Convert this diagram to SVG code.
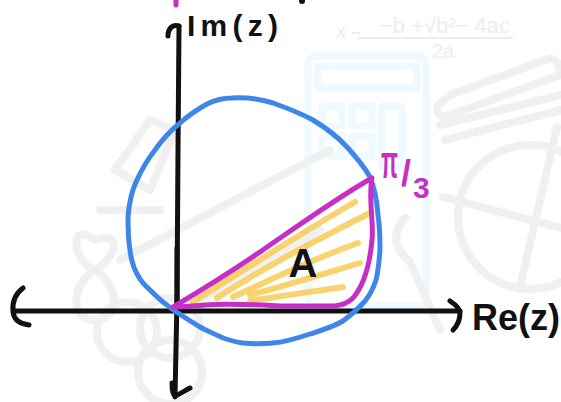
<svg xmlns="http://www.w3.org/2000/svg" width="561" height="402" viewBox="0 0 561 402">
<style>
.bg{fill:none;stroke:#f0f0f0;stroke-width:8;stroke-linecap:round;stroke-linejoin:round}
.bgc{fill:none;stroke:#eefafe;stroke-width:7;stroke-linejoin:round}
.wm{fill:#ededed;font-family:"Liberation Sans",Arial,sans-serif}
.ink{fill:none;stroke:#111111;stroke-width:5;stroke-linecap:round;stroke-linejoin:round}
.blue{fill:none;stroke:#3f86ea;stroke-width:5;stroke-linecap:round;stroke-linejoin:round}
.pink{fill:none;stroke:#c52fc5;stroke-width:5;stroke-linecap:round;stroke-linejoin:round}
.hatch{fill:none;stroke:#f6c84a;stroke-opacity:0.8;stroke-width:6;stroke-linecap:round}
.lbl{fill:#111111;font-family:"Liberation Sans",Arial,sans-serif;font-weight:bold}
.plbl{fill:#c52fc5;font-family:"Liberation Sans",Arial,sans-serif;font-weight:bold}
</style>
<rect width="561" height="402" fill="#ffffff"/>
<g id="background">
  <text class="wm" x="336" y="38" font-size="20">x</text>
  <line x1="358" y1="38" x2="513" y2="38" stroke="#ededed" stroke-width="2"/>
  <line x1="352" y1="33" x2="360" y2="33" stroke="#ededed" stroke-width="2"/>
  <text class="wm" x="380" y="33" font-size="22">−b +√b²− 4ac</text>
  <text class="wm" x="432" y="58" font-size="20">2a</text>
  <rect class="bgc" x="308" y="56" width="118" height="250" rx="8"/>
  <rect class="bgc" x="318" y="66" width="99" height="22"/>
  <rect class="bgc" x="322" y="106" width="20" height="20"/>
  <rect class="bgc" x="352" y="106" width="20" height="20"/>
  <rect class="bgc" x="382" y="106" width="20" height="60"/>
  <rect class="bgc" x="322" y="136" width="20" height="20"/>
  <rect class="bgc" x="352" y="136" width="20" height="20"/>
  <path class="bg" d="M450,95 L545,60 Q560,55 560,75 L450,115 Q435,120 438,105 Z"/>
  <path class="bg" d="M440,125 L561,95 M445,140 L561,110"/>
  <circle class="bg" cx="530" cy="217" r="72"/>
  <path class="bg" d="M443,197 L561,228 M557,127 L520,287"/>
  <path class="bg" d="M405,218 Q385,240 410,262 L440,330"/>
  <path class="bg" d="M115,170 L150,120 L175,130 L150,190 Z"/>
  <path class="bg" d="M100,210 L160,210"/>
  <path class="bg" d="M95,240 C70,220 70,260 95,270 C120,285 120,320 95,320 C70,320 70,285 95,270 C120,255 120,230 95,240 Z"/>
  <circle class="bg" cx="127" cy="332" r="30"/>
  <circle class="bg" cx="170" cy="328" r="30"/>
  <circle class="bg" cx="170" cy="372" r="32"/>
  <path class="bg" d="M120,260 L330,150 M200,300 L320,230"/>
</g>
<g id="axes">
  <path class="ink" d="M179,26 L178,150 L177,300 L175,397"/>
  <path class="ink" stroke-width="7" d="M177,248 L177,310"/>
  <path class="ink" d="M168,36 C168,28 173,24 179,26"/>
  <path class="ink" d="M172,383 C172,390 173,395 175,396 C180,394 186,390 190,388"/>
  <path class="ink" d="M14,311 L460,311"/>
  <path class="ink" d="M23,288 C15,294 12,302 13,312 C14,320 20,324 29,325"/>
  <path class="ink" d="M450,301 C456,305 460,309 460,313 C460,320 457,326 453,330"/>
</g>
<g id="circle">
  <path class="blue" d="M232,98 C246,97 260,99 273,103 C287,108 300,113 313,120 C326,128 338,137 347,147 C356,157 364,166 370,177 C375,189 377,202 378,215 C380,228 380,240 380,250 C379,263 378,272 376,280 C373,289 370,295 365,301 C358,309 351,315 343,321 C333,327 322,330 310,334 C298,338 286,342 273,343 C263,344 253,344 243,343 C235,342 229,340 223,338 C215,334 207,331 200,327 C190,321 181,315 172,309 C165,304 158,298 153,293 C147,287 143,284 140,279 C134,270 131,260 130,250 C128,239 128,228 128,217 C129,204 131,193 136,182 C141,171 147,160 155,150 C162,140 170,131 180,123 C189,115 198,109 207,104 C215,100 224,98 232,98 Z"/>
</g>
<g id="sector">
  <path class="hatch" d="M355,202 C310,228 240,272 193,302"/>
  <path class="hatch" d="M370,213 C320,238 260,270 217,298"/>
  <path class="hatch" d="M358,243 C310,260 270,280 233,297"/>
  <path class="hatch" d="M360,263 C320,275 285,286 250,295"/>
  <path class="hatch" d="M343,287 C310,292 280,296 250,301"/>
  <path class="pink" d="M173,307 C205,288 240,266 270,245 C305,221 340,196 372,178 C368,200 374,220 372,240 C370,262 364,285 353,298 C348,303 343,305 335,306 L283,306 C260,305 230,303 205,305 C190,306 180,307 173,307 Z"/>
  <text class="lbl" x="303" y="277" font-size="40" text-anchor="middle">A</text>
</g>
<g id="labels">
  <text class="lbl" x="187" y="36" font-size="30" textLength="91" lengthAdjust="spacing">Im(z)</text>
  <text class="lbl" x="472" y="330" font-size="36" textLength="88" lengthAdjust="spacing">Re(z)</text>
  <text class="plbl" transform="translate(381,178) scale(0.85,1.8)" font-size="26">π</text>
  <text class="plbl" x="401" y="186" font-size="36">/</text>
  <text class="plbl" x="413" y="198" font-size="30">3</text>
  <path class="pink" d="M176,0 L176,5"/>
  <circle cx="302" cy="1" r="3" fill="#111111"/>
</g>
</svg>
